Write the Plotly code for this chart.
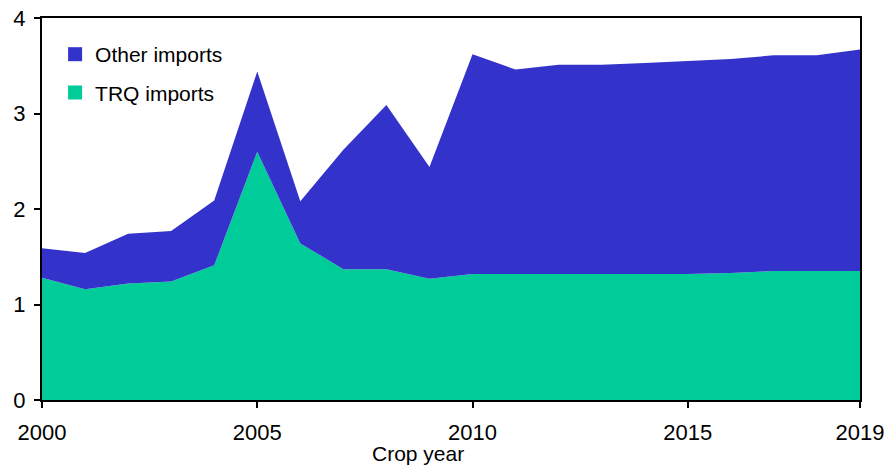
import plotly.graph_objects as go

years = list(range(2000, 2020))
trq_imports = [1.28, 1.16, 1.22, 1.24, 1.41, 2.60, 1.64, 1.37, 1.37, 1.27,
               1.32, 1.32, 1.32, 1.32, 1.32, 1.32, 1.33, 1.35, 1.35, 1.35]
total_imports = [1.59, 1.54, 1.74, 1.77, 2.09, 3.44, 2.08, 2.62, 3.09, 2.44,
                 3.62, 3.46, 3.51, 3.51, 3.53, 3.55, 3.57, 3.61, 3.61, 3.67]
other_imports = [round(t - q, 3) for t, q in zip(total_imports, trq_imports)]

x_tickvals = [2000, 2005, 2010, 2015, 2019]
y_tickvals = [0, 1, 2, 3, 4]

GREEN = "#00CC99"
BLUE = "#3333CC"
FONT = "Liberation Sans, Arial, sans-serif"

fig = go.Figure()
fig.add_trace(go.Scatter(x=years, y=trq_imports, stackgroup="s", mode="none",
                         fillcolor=GREEN, name="TRQ imports", showlegend=False))
fig.add_trace(go.Scatter(x=years, y=other_imports, stackgroup="s", mode="none",
                         fillcolor=BLUE, name="Other imports", showlegend=False))
# legend entries
fig.add_trace(go.Scatter(x=[None], y=[None], mode="markers", name="Other imports",
                         marker=dict(symbol="square", size=14, color=BLUE),
                         legendgroup="a"))
fig.add_trace(go.Scatter(x=[None], y=[None], mode="markers", name="TRQ imports",
                         marker=dict(symbol="square", size=14, color=GREEN),
                         legendgroup="b"))

fig.update_layout(
    width=885, height=466,
    margin=dict(l=42, r=25, t=18, b=66),
    plot_bgcolor="white", paper_bgcolor="white",
    font=dict(family=FONT, size=22, color="black"),
    legend=dict(x=0.016, y=0.958, xanchor="left", yanchor="top",
                bgcolor="rgba(0,0,0,0)", font=dict(size=21),
                traceorder="grouped", tracegroupgap=8),
    xaxis=dict(range=[2000, 2019], tickvals=x_tickvals, ticks="outside",
               ticklen=6, tickwidth=1.5, tickcolor="black", automargin=False,
               showline=True, linecolor="black", linewidth=2, mirror=True,
               showgrid=False, zeroline=False, ticklabelstandoff=6),
    yaxis=dict(range=[0, 4], tickvals=y_tickvals, ticks="outside",
               ticklen=6, tickwidth=1.5, tickcolor="black", automargin=False,
               showline=True, linecolor="black", linewidth=2, mirror=True,
               showgrid=False, zeroline=False, ticklabelstandoff=4),
    annotations=[dict(text="Crop year", xref="paper", yref="paper",
                      x=0.46, y=-0.139, xanchor="center", yanchor="middle",
                      showarrow=False, font=dict(size=21))],
)

fig.write_html(
    "out.html",
    config={"displayModeBar": False},
    post_script="document.body.style.margin='0';document.body.style.overflow='hidden';",
)
